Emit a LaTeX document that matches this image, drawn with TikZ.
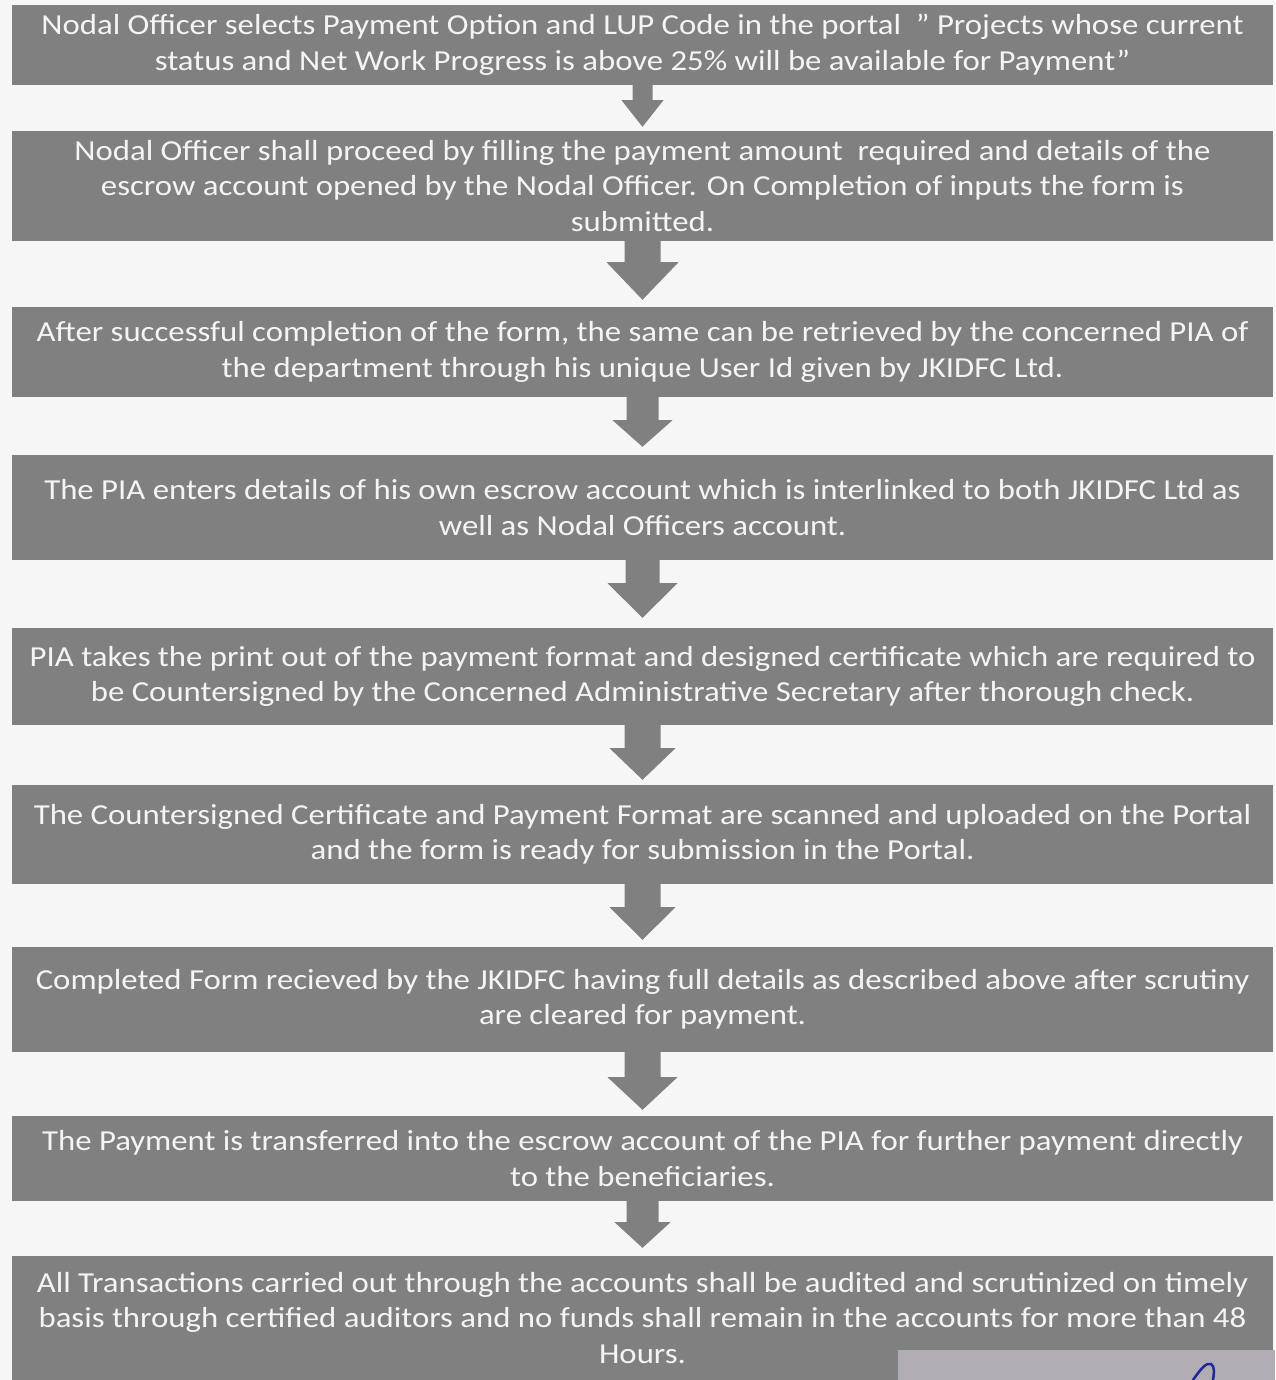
\documentclass[tikz,border=0pt]{standalone}
\usepackage{fontspec}
\setmainfont{Carlito}[FakeStretch=1.13]
\definecolor{boxgray}{RGB}{128,128,128}
\definecolor{bggray}{RGB}{246,246,246}
\definecolor{txtwhite}{RGB}{244,244,244}
\definecolor{patchgray}{RGB}{178,172,180}
\definecolor{inkblue}{RGB}{30,40,150}
\newcommand\flowarr[6]{%
  \fill[boxgray] ([xshift=-#3pt,yshift=1pt]#1.south) -- ([xshift=-#3pt,yshift=-#5pt]#1.south)
    -- ([xshift=-#4pt,yshift=-#5pt]#1.south) -- ([yshift=#6pt]#2.north)
    -- ([xshift=#4pt,yshift=-#5pt]#1.south) -- ([xshift=#3pt,yshift=-#5pt]#1.south)
    -- ([xshift=#3pt,yshift=1pt]#1.south) -- cycle;}
\begin{document}
\begin{tikzpicture}[x=1pt,y=-1pt,
  stepbox/.style={fill=boxgray, text=txtwhite, minimum width=1261pt, inner sep=0pt,
    align=center, font=\fontsize{29}{35.5}\selectfont}]
\fill[bggray] (0,0) rectangle (1275,1380);
\useasboundingbox (0,0) rectangle (1275,1380);

\node[stepbox, minimum height=80pt] (b1) at (642.5,45)
 {Nodal Officer selects Payment Option and LUP Code in the portal \ '' Projects whose current\\
  status and Net Work Progress is above 25\% will be available for Payment''};
\node[stepbox, minimum height=110pt] (b2) at (642.5,186)
 {Nodal Officer shall proceed by filling the payment amount \ required and details of the\\
  escrow account opened by the Nodal Officer. On Completion of inputs the form is\\
  submitted.};
\node[stepbox, minimum height=90pt] (b3) at (642.5,352)
 {After successful completion of the form, the same can be retrieved by the concerned PIA of\\
  the department through his unique User Id given by JKIDFC Ltd.};
\node[stepbox, minimum height=105pt] (b4) at (642.5,507.5)
 {The PIA enters details of his own escrow account which is interlinked to both JKIDFC Ltd as\\
  well as Nodal Officers account.};
\node[stepbox, minimum height=97pt] (b5) at (642.5,676.5)
 {PIA takes the print out of the payment format and designed certificate which are required to\\
  be Countersigned by the Concerned Administrative Secretary after thorough check.};
\node[stepbox, minimum height=99pt] (b6) at (642.5,834.5)
 {The Countersigned Certificate and Payment Format are scanned and uploaded on the Portal\\
  and the form is ready for submission in the Portal.};
\node[stepbox, minimum height=105pt] (b7) at (642.5,999.5)
 {Completed Form recieved by the JKIDFC having full details as described above after scrutiny\\
  are cleared for payment.};
\node[stepbox, minimum height=85pt] (b8) at (642.5,1158.5)
 {The Payment is transferred into the escrow account of the PIA for further payment directly\\
  to the beneficiaries.};
\node[stepbox, minimum height=124pt] (b9) at (642.5,1318)
 {All Transactions carried out through the accounts shall be audited and scrutinized on timely\\
  basis through certified auditors and no funds shall remain in the accounts for more than 48\\
  Hours.};

\flowarr{b1}{b2}{10}{21}{15}{4}
\flowarr{b2}{b3}{18}{36}{21}{7}
\flowarr{b3}{b4}{16}{30}{23}{8}
\flowarr{b4}{b5}{17}{35}{23}{10}
\flowarr{b5}{b6}{18}{33}{23}{5}
\flowarr{b6}{b7}{18}{33}{23}{7}
\flowarr{b7}{b8}{18}{35}{25}{6}
\flowarr{b8}{b9}{16}{28}{21}{8}

\fill[patchgray] (898,1350) rectangle (1275,1380);
\draw[inkblue, line width=2.5pt, line cap=round] (1193,1380) .. controls (1200,1370) and (1206,1362) .. (1211,1364) .. controls (1215,1366) and (1214,1374) .. (1213,1380);
\end{tikzpicture}
\end{document}
